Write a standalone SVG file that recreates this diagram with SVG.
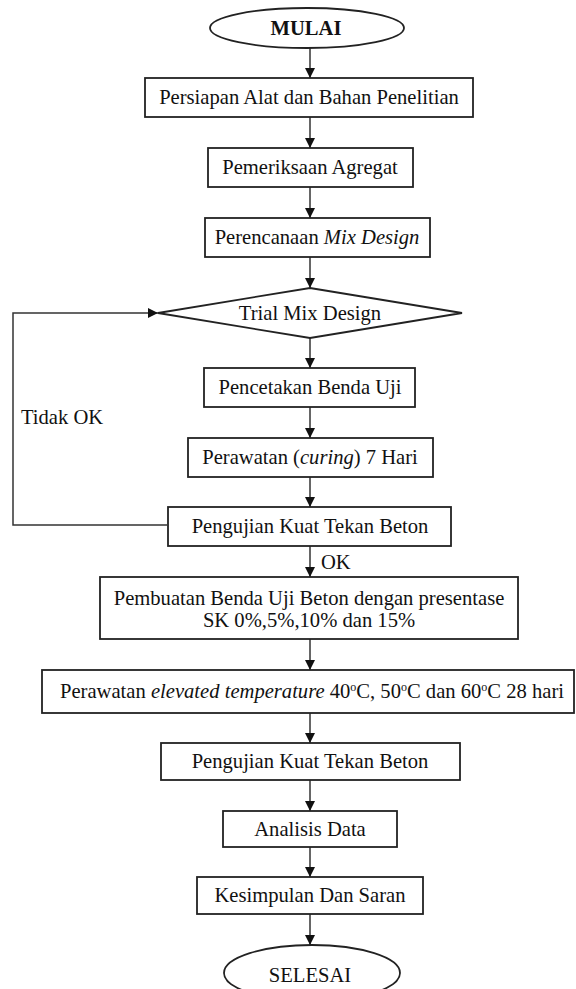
<svg xmlns="http://www.w3.org/2000/svg" width="576" height="989" viewBox="0 0 576 989">
<defs>
<style>
.box{fill:#fff;stroke:#222;stroke-width:1.8}
.t{font-family:"Liberation Serif","Times New Roman",serif;font-size:20.6px;fill:#111;text-anchor:middle}
.tl{font-family:"Liberation Serif","Times New Roman",serif;font-size:20.6px;fill:#111}
.b{font-weight:bold}
.c{fill:none;stroke:#333;stroke-width:1.5}
</style>
<marker id="ah" viewBox="0 0 10 10" refX="10" refY="5" markerWidth="10" markerHeight="10" markerUnits="userSpaceOnUse" orient="auto">
<path d="M0,0 L10,5 L0,10 Z" fill="#111"/>
</marker>
</defs>
<rect width="576" height="989" fill="#fff"/>
<g id="connectors">
<line class="c" x1="310" y1="48" x2="310" y2="78" marker-end="url(#ah)"/>
<line class="c" x1="310" y1="117" x2="310" y2="148" marker-end="url(#ah)"/>
<line class="c" x1="310" y1="187" x2="310" y2="218" marker-end="url(#ah)"/>
<line class="c" x1="310" y1="257" x2="310" y2="288" marker-end="url(#ah)"/>
<line class="c" x1="310" y1="338" x2="310" y2="368" marker-end="url(#ah)"/>
<line class="c" x1="310" y1="407" x2="310" y2="438" marker-end="url(#ah)"/>
<line class="c" x1="310" y1="477" x2="310" y2="507" marker-end="url(#ah)"/>
<line class="c" x1="310" y1="546" x2="310" y2="577" marker-end="url(#ah)"/>
<line class="c" x1="310" y1="639" x2="310" y2="670" marker-end="url(#ah)"/>
<line class="c" x1="310" y1="713" x2="310" y2="743" marker-end="url(#ah)"/>
<line class="c" x1="310" y1="780" x2="310" y2="811" marker-end="url(#ah)"/>
<line class="c" x1="310" y1="847" x2="310" y2="877" marker-end="url(#ah)"/>
<line class="c" x1="310" y1="914" x2="310" y2="945" marker-end="url(#ah)"/>
<polyline class="c" points="167,525 13,525 13,313 158,313" marker-end="url(#ah)"/>
<text class="tl" x="21" y="424">Tidak OK</text>
<text class="tl" x="321" y="569">OK</text>
</g>
<g id="mulai">
<ellipse class="box" cx="307" cy="28" rx="97" ry="20"/>
<text class="t b" x="306" y="35">MULAI</text>
</g>
<g id="n1">
<rect class="box" x="145" y="78" width="328" height="39"/>
<text class="t" x="309" y="104">Persiapan Alat dan Bahan Penelitian</text>
</g>
<g id="n2">
<rect class="box" x="208" y="148" width="205" height="39"/>
<text class="t" x="310" y="174">Pemeriksaan Agregat</text>
</g>
<g id="n3">
<rect class="box" x="205" y="218" width="225" height="39"/>
<text class="t" x="317" y="244">Perencanaan <tspan font-style="italic">Mix Design</tspan></text>
</g>
<g id="trial">
<polygon class="box" points="310,288 462,313 310,338 158,313"/>
<text class="t" x="310" y="320">Trial Mix Design</text>
</g>
<g id="n4">
<rect class="box" x="204" y="368" width="211" height="39"/>
<text class="t" x="310" y="394">Pencetakan Benda Uji</text>
</g>
<g id="n5">
<rect class="box" x="188" y="438" width="245" height="39"/>
<text class="t" x="310" y="464">Perawatan (<tspan font-style="italic">curing</tspan>) 7 Hari</text>
</g>
<g id="n6">
<rect class="box" x="168" y="507" width="283" height="39"/>
<text class="t" x="310" y="533">Pengujian Kuat Tekan Beton</text>
</g>
<g id="n7">
<rect class="box" x="100" y="577" width="418" height="62"/>
<text class="t" x="309" y="605">Pembuatan Benda Uji Beton dengan presentase</text>
<text class="t" x="309" y="627">SK 0%,5%,10% dan 15%</text>
</g>
<g id="n8">
<rect class="box" x="42" y="670" width="532" height="43"/>
<text class="t" x="312" y="698">Perawatan <tspan font-style="italic">elevated temperature</tspan> 40<tspan font-size="12" dy="-7">o</tspan><tspan dy="7">C, 50</tspan><tspan font-size="12" dy="-7">o</tspan><tspan dy="7">C dan 60</tspan><tspan font-size="12" dy="-7">o</tspan><tspan dy="7">C 28 hari</tspan></text>
</g>
<g id="n9">
<rect class="box" x="161" y="743" width="299" height="37"/>
<text class="t" x="310" y="768">Pengujian Kuat Tekan Beton</text>
</g>
<g id="n10">
<rect class="box" x="223" y="811" width="174" height="36"/>
<text class="t" x="310" y="836">Analisis Data</text>
</g>
<g id="n11">
<rect class="box" x="197" y="877" width="226" height="37"/>
<text class="t" x="310" y="902">Kesimpulan Dan Saran</text>
</g>
<g id="selesai">
<ellipse class="box" cx="312" cy="973" rx="88" ry="28"/>
<text class="t" x="310" y="982">SELESAI</text>
</g>
</svg>
